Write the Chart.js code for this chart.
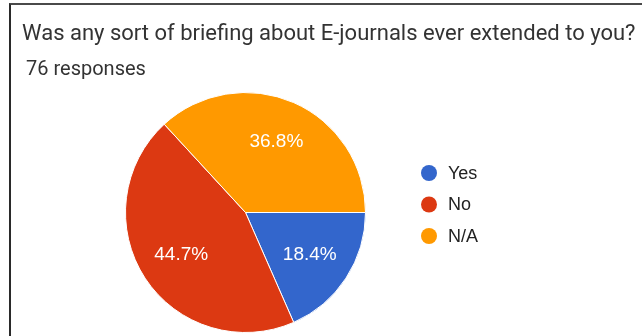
<!DOCTYPE html>
<html>
<head>
<meta charset="utf-8">
<script src="https://cdn.jsdelivr.net/npm/chart.js@4"></script>
<style>
  html, body { margin: 0; padding: 0; background: #fff; }
  body { width: 642px; height: 336px; position: relative; overflow: hidden; }
  #wrap { position: absolute; left: 0; top: 0; width: 642px; height: 336px; filter: blur(0.4px); }
  #frame {
    position: absolute; left: 9px; top: 3px; right: 0; bottom: 0;
    border-top: 2px solid #4a4a4a; border-left: 2px solid #2a2a2a;
  }
  .txt { position: absolute; font-family: Roboto, sans-serif; color: #333; white-space: nowrap; line-height: 1; }
  #title { left: 22px; top: 22px; font-size: 22px; }
  #sub { left: 26px; top: 58px; font-size: 20px; }
  #chart { position: absolute; left: 0; top: 0; }
</style>
</head>
<body>
<div id="wrap">
<div id="frame"></div>
<div class="txt" id="title">Was any sort of briefing about E-journals ever extended to you?</div>
<div class="txt" id="sub">76 responses</div>
<canvas id="chart" width="642" height="336"></canvas>
</div>
<script>
var categorias = ['Yes', 'No', 'N/A']
var respostas = [14, 34, 28]
var porcentagens = ['18.4%', '44.7%', '36.8%']
var cores = ['#3366cc', '#dc3912', '#ff9900']

// rotulos dentro das fatias + legenda ao lado
var rotulosPlugin = {
  id: 'rotulos',
  afterDatasetsDraw: function (chart) {
    var c = chart.ctx
    var arcs = chart.getDatasetMeta(0).data
    c.save()
    c.font = '19px Arial, "Liberation Sans", sans-serif'
    c.fillStyle = '#fff'
    c.textAlign = 'center'
    c.textBaseline = 'middle'
    arcs.forEach(function (arc, i) {
      var meio = (arc.startAngle + arc.endAngle) / 2
      var r = arc.outerRadius * 0.64
      c.fillText(porcentagens[i], arc.x + Math.cos(meio) * r, arc.y + Math.sin(meio) * r)
    })

    // legenda
    var lx = 429, ly = 173, passo = 31.5
    c.textAlign = 'left'
    c.font = '18px Arial, "Liberation Sans", sans-serif'
    categorias.forEach(function (nome, i) {
      c.beginPath()
      c.arc(lx, ly + i * passo, 8, 0, Math.PI * 2)
      c.fillStyle = cores[i]
      c.fill()
      c.fillStyle = '#222'
      c.fillText(nome, lx + 19, ly + i * passo + 1)
    })
    c.restore()
  }
}

new Chart(document.querySelector('#chart'), {
  type: 'pie',
  data: {
    labels: categorias,
    datasets: [{
      data: respostas,
      backgroundColor: cores,
      borderColor: '#fff',
      borderWidth: 1
    }]
  },
  options: {
    responsive: false,
    animation: false,
    rotation: 90,
    layout: { padding: { left: 125, right: 276, top: 92, bottom: 3 } },
    plugins: {
      legend: { display: false },
      tooltip: { enabled: false }
    }
  },
  plugins: [rotulosPlugin]
})
</script>
</body>
</html>
